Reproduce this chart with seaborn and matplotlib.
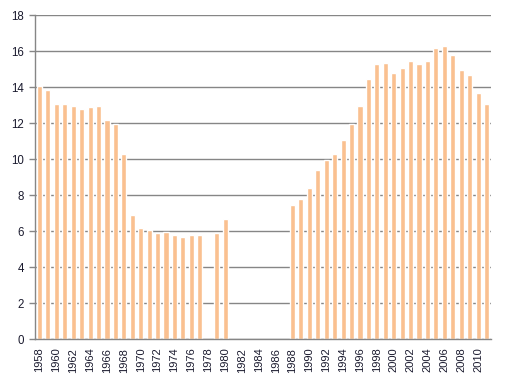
import matplotlib
matplotlib.use("Agg")
import matplotlib.pyplot as plt
import numpy as np
import pandas as pd
import seaborn as sns

# %% DATA
years = list(range(1958, 2012))
values = [
    14.07, 13.85, 13.07, 13.07, 12.96, 12.80, 12.91, 12.96, 12.19, 11.98,  # 1958-1967
    10.30, 6.91, 6.19, 6.07, 5.91, 5.98, 5.80, 5.69, 5.80, 5.80,  # 1968-1977
    np.nan, 5.91, 6.69, np.nan, np.nan, np.nan, np.nan, np.nan, np.nan, np.nan,  # 1978-1987
    7.46, 7.80, 8.41, 9.41, 9.96, 10.30, 11.07, 11.96, 12.96, 14.46,  # 1988-1997
    15.30, 15.35, 14.80, 15.07, 15.46, 15.30, 15.46, 16.19, 16.30, 15.80,  # 1998-2007
    14.96, 14.69, 13.69, 13.07,  # 2008-2011
]
y_ticks = list(range(0, 19, 2))

df = pd.DataFrame({"year": [str(y) for y in years], "value": values})

# %% PLOT
sns.set_style("white")
plt.rcParams["font.family"] = ["Liberation Sans", "DejaVu Sans"]

fig = plt.figure(figsize=(5.06, 3.81), dpi=100)
ax = fig.add_axes([35.3 / 506, 1 - 339.3 / 381, (490.7 - 35.3) / 506, (339.3 - 15.3) / 381])

sns.barplot(data=df, x="year", y="value", order=df["year"], color="#FAC090",
            saturation=1, width=0.6, ax=ax)

ax.set_xlim(-0.5, len(years) - 0.5)
ax.set_ylim(0, 18)
ax.set_yticks(y_ticks)
ax.set_yticklabels([str(t) for t in y_ticks], fontsize=8.3, color="#1a1a2e")
ax.yaxis.grid(True, color="#868686", linewidth=1)
ax.set_axisbelow(True)

ax.set_xticks(range(0, len(years), 2))
ax.set_xticklabels([str(y) for y in years[::2]], rotation=90, fontsize=8, color="#1a1a2e")
ax.set_xticks(np.arange(-0.5, len(years), 1), minor=True)
ax.tick_params(axis="x", which="major", length=0, pad=6)
ax.tick_params(axis="x", which="minor", length=4, color="#868686", width=1)
ax.tick_params(axis="y", length=4, color="#868686", width=1, pad=4, left=True)

ax.set_xlabel("")
ax.set_ylabel("")
for side in ["top", "right"]:
    ax.spines[side].set_visible(False)
for side in ["left", "bottom"]:
    ax.spines[side].set_color("#868686")
    ax.spines[side].set_linewidth(1)

fig.savefig("out.png", dpi=100)
